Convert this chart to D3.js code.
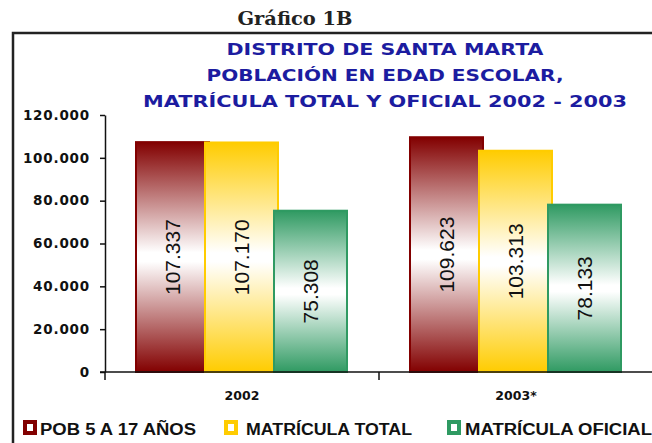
<!DOCTYPE html>
<html>
<head>
<meta charset="utf-8">
<script src="https://cdn.jsdelivr.net/npm/d3@7"></script>
<style>
  body { margin: 0; background: #fff; }
  svg { display: block; }
  .y.axis text { font-family: "DejaVu Sans", Verdana, sans-serif; font-weight: bold; font-size: 13.5px; letter-spacing: 0.8px; fill: #111; }
  .x.axis text { font-family: "DejaVu Sans", Verdana, sans-serif; font-weight: bold; font-size: 12.5px; fill: #111; }
  .axis path, .axis line { stroke: #111; stroke-width: 1.5; }
</style>
</head>
<body>
<div id="chart-area"></div>
<script>
const years = ['2002', '2003*'];
const seriesNames = ['POB 5 A 17 AÑOS', 'MATRÍCULA TOTAL', 'MATRÍCULA  OFICIAL'];
const poblacion = [107337, 109623];
const matriculaTotal = [107170, 103313];
const matriculaOficial = [75308, 78133];
const yTicks = [0, 20000, 40000, 60000, 80000, 100000, 120000];
const titleLines = ['DISTRITO DE SANTA MARTA', 'POBLACIÓN EN EDAD ESCOLAR,', 'MATRÍCULA TOTAL Y OFICIAL 2002 - 2003'];

const chartSize = { width: 652, height: 443 };
const colors = ['#820000', '#ffcc00', '#2f9a62'];
const locale = d3.formatLocale({ decimal: ',', thousands: '.', grouping: [3], currency: ['$', ''] });
const fmt = locale.format(',');

const svg = d3.select('#chart-area').append('svg')
  .attr('width', chartSize.width)
  .attr('height', chartSize.height);

// gradients: dark at top and bottom, white in the middle
const defs = svg.append('defs');
colors.forEach((col, i) => {
  const g = defs.append('linearGradient')
    .attr('id', 'grad' + i)
    .attr('x1', 0).attr('y1', 0).attr('x2', 0).attr('y2', 1);
  g.append('stop').attr('offset', '0%').attr('stop-color', col);
  g.append('stop').attr('offset', '48%').attr('stop-color', '#fff');
  g.append('stop').attr('offset', '52%').attr('stop-color', '#fff');
  g.append('stop').attr('offset', '100%').attr('stop-color', col);
});

svg.append('text')
  .attr('x', 295).attr('y', 25)
  .attr('text-anchor', 'middle')
  .attr('textLength', 115)
  .attr('lengthAdjust', 'spacingAndGlyphs')
  .style('font-family', '"DejaVu Serif", serif')
  .style('font-weight', 'bold')
  .style('font-size', '19px')
  .style('fill', '#222')
  .text('Gráfico 1B');

// frame
svg.append('path')
  .attr('d', 'M13,443V33H652')
  .attr('fill', 'none')
  .attr('stroke', '#222')
  .attr('stroke-width', 2.5);

const titleWidths = [317, 357, 484];
svg.selectAll('.title')
  .data(titleLines)
  .join('text')
  .attr('class', 'title')
  .attr('x', 385)
  .attr('y', (d, i) => 55 + i * 26)
  .attr('text-anchor', 'middle')
  .attr('textLength', (d, i) => titleWidths[i])
  .attr('lengthAdjust', 'spacingAndGlyphs')
  .style('font-family', '"DejaVu Sans", Verdana, sans-serif')
  .style('font-weight', 'bold')
  .style('font-size', '15px')
  .style('fill', '#1c1ca0')
  .text(d => d);

const y = d3.scaleLinear().domain([0, 120000]).range([372, 115]);
const x0 = d3.scaleBand().domain(years).range([105, 653]);
const x1 = d3.scalePoint().domain(seriesNames).range([0, 138]);
const barW = 73;

svg.append('g')
  .attr('class', 'y axis')
  .attr('transform', 'translate(105,0)')
  .call(d3.axisLeft(y).tickValues(yTicks).tickFormat(fmt).tickSize(5).tickPadding(10).tickSizeOuter(0));

const table = years.map((yr, i) => ({
  year: yr,
  values: [poblacion[i], matriculaTotal[i], matriculaOficial[i]]
}));

const groups = svg.selectAll('.grp')
  .data(table)
  .join('g')
  .attr('class', 'grp')
  .attr('transform', d => `translate(${x0(d.year) + 31},0)`);

const bars = groups.selectAll('.bar')
  .data(d => d.values.map((v, k) => ({ v, k })))
  .join('g')
  .attr('class', 'bar');

bars.append('rect')
  .attr('x', d => x1(seriesNames[d.k]))
  .attr('y', d => y(d.v))
  .attr('width', barW)
  .attr('height', d => y(0) - y(d.v))
  .attr('fill', d => `url(#grad${d.k})`)
  .attr('stroke', d => colors[d.k])
  .attr('stroke-width', 2);

bars.append('text')
  .attr('transform', d => `translate(${x1(seriesNames[d.k]) + barW / 2},${(y(d.v) + y(0)) / 2}) rotate(-90)`)
  .attr('text-anchor', 'middle')
  .attr('dy', '0.35em')
  .style('font-family', '"Liberation Sans", Arial, sans-serif')
  .style('font-size', '21px')
  .style('fill', '#111')
  .text(d => fmt(d.v));

const xAxis = d3.axisBottom(x0).tickSize(0).tickPadding(19);
const xg = svg.append('g')
  .attr('class', 'x axis')
  .attr('transform', `translate(0,${y(0)})`)
  .call(xAxis);
xg.select('.domain').attr('d', 'M100,0H652');
xg.selectAll('.sep')
  .data(years)
  .join('line')
  .attr('class', 'sep')
  .attr('x1', d => x0(d)).attr('x2', d => x0(d))
  .attr('y1', 0).attr('y2', 8);

// legend
const legX = [23, 224, 447];
const legTextX = [40, 246, 465];
const legW = [156, 166, 187];
const leg = svg.selectAll('.leg')
  .data(seriesNames)
  .join('g')
  .attr('class', 'leg');
leg.append('rect')
  .attr('x', (d, i) => legX[i] + 2)
  .attr('y', 422)
  .attr('width', 10).attr('height', 11)
  .attr('fill', '#fff')
  .attr('stroke', (d, i) => colors[i])
  .attr('stroke-width', 4);
leg.append('text')
  .attr('x', (d, i) => legTextX[i])
  .attr('y', 435)
  .attr('textLength', (d, i) => legW[i])
  .attr('lengthAdjust', 'spacingAndGlyphs')
  .style('font-family', '"Liberation Sans Narrow", "Liberation Sans", Arial, sans-serif')
  .style('font-weight', 'bold')
  .style('font-size', '16px')
  .style('fill', '#111')
  .text(d => d);
</script>
</body>
</html>
